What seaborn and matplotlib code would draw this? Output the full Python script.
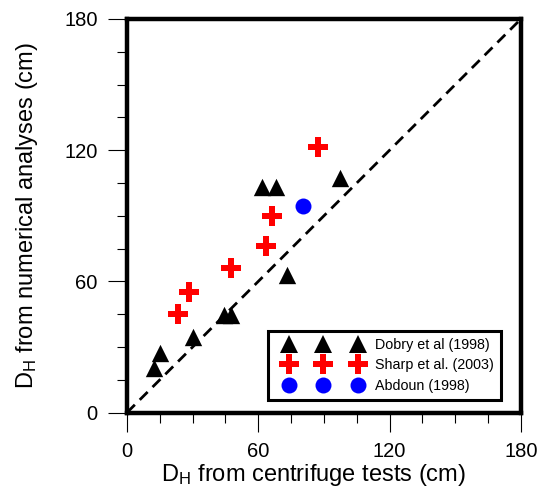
import numpy as np
import pandas as pd
import matplotlib
matplotlib.use("Agg")
import matplotlib.pyplot as plt
import seaborn as sns
from matplotlib.lines import Line2D
from matplotlib.legend_handler import HandlerLine2D
from matplotlib.ticker import MultipleLocator

# displacement values (cm)
dobry_x = [12.3, 15.0, 30.2, 44.2, 47.7, 72.9, 61.5, 68.3, 97.3]
dobry_y = [20.3, 27.4, 34.7, 44.6, 44.6, 62.9, 103.0, 103.0, 107.1]
sharp_x = [23.3, 28.2, 47.3, 63.3, 66.3, 87.3]
sharp_y = [44.9, 55.3, 66.0, 76.3, 90.0, 121.3]
abdoun_x = [80.2]
abdoun_y = [94.5]
sources = ["Dobry et al (1998)", "Sharp et al. (2003)", "Abdoun (1998)"]
tick_vals = [0, 60, 120, 180]

df = pd.concat([
    pd.DataFrame({"x": dobry_x, "y": dobry_y, "src": sources[0]}),
    pd.DataFrame({"x": sharp_x, "y": sharp_y, "src": sources[1]}),
    pd.DataFrame({"x": abdoun_x, "y": abdoun_y, "src": sources[2]}),
])

sns.set_style("ticks")
plt.rcParams["font.family"] = ["Liberation Sans", "DejaVu Sans"]
plt.rcParams["mathtext.fontset"] = "custom"
plt.rcParams["mathtext.rm"] = "Liberation Sans"
for k in ["text.color", "axes.labelcolor", "xtick.color", "ytick.color"]:
    plt.rcParams[k] = "black"

styles = {
    sources[0]: dict(marker="^", color="black", ms=12.5),
    sources[1]: dict(marker="P", color="#ff0000", ms=14.5),
    sources[2]: dict(marker="o", color="#0000ff", ms=11.5),
}

fig = plt.figure(figsize=(5.49, 4.95), dpi=100)
ax = fig.add_axes([0.2313, 0.1665, 0.7177, 0.7953])

ax.plot([0, 180], [0, 180], color="black", lw=2, ls=(0, (4, 2.5)), zorder=1)

for src, grp in df.groupby("src", sort=False):
    st = styles[src]
    sns.scatterplot(data=grp, x="x", y="y", ax=ax, marker=st["marker"],
                    color=st["color"], s=st["ms"] ** 2, linewidth=0,
                    legend=False, zorder=3)

ax.set_xlim(0, 180)
ax.set_ylim(0, 180)
ax.set_xticks(tick_vals)
ax.set_yticks(tick_vals)
ax.xaxis.set_minor_locator(MultipleLocator(15))
ax.yaxis.set_minor_locator(MultipleLocator(15))
ax.tick_params(which="major", direction="out", length=14, width=0.8,
               labelsize=14.5, pad=7, color="black", labelcolor="black")
ax.tick_params(which="minor", direction="out", length=7, width=0.8, color="black")
ax.tick_params(top=False, right=False, which="both")
for sp in ax.spines.values():
    sp.set_linewidth(3.2)
    sp.set_color("black")

ax.set_xlabel(r"$\mathregular{D_H}$ from centrifuge tests (cm)", fontsize=17, color="black")
ax.set_ylabel(r"$\mathregular{D_H}$ from numerical analyses (cm)", fontsize=17, color="black")
ax.xaxis.set_label_coords(0.472, -0.126)
ax.yaxis.set_label_coords(-0.222, 0.5)

handles = [Line2D([], [], ls="none", marker=styles[s]["marker"],
                  color=styles[s]["color"], markersize=styles[s]["ms"],
                  markeredgewidth=0) for s in sources]
leg = ax.legend(handles, sources, loc="lower right",
                bbox_to_anchor=(0.949, 0.032), borderaxespad=0,
                fontsize=10.3, frameon=True, fancybox=False,
                edgecolor="black", framealpha=1, borderpad=0.5,
                handlelength=6.8, handletextpad=0.2, labelspacing=0.45,
                handler_map={Line2D: HandlerLine2D(numpoints=3, marker_pad=1.0)})
leg.get_frame().set_linewidth(2.2)
for t in leg.get_texts():
    t.set_color("black")

fig.savefig("out.png", dpi=100)
